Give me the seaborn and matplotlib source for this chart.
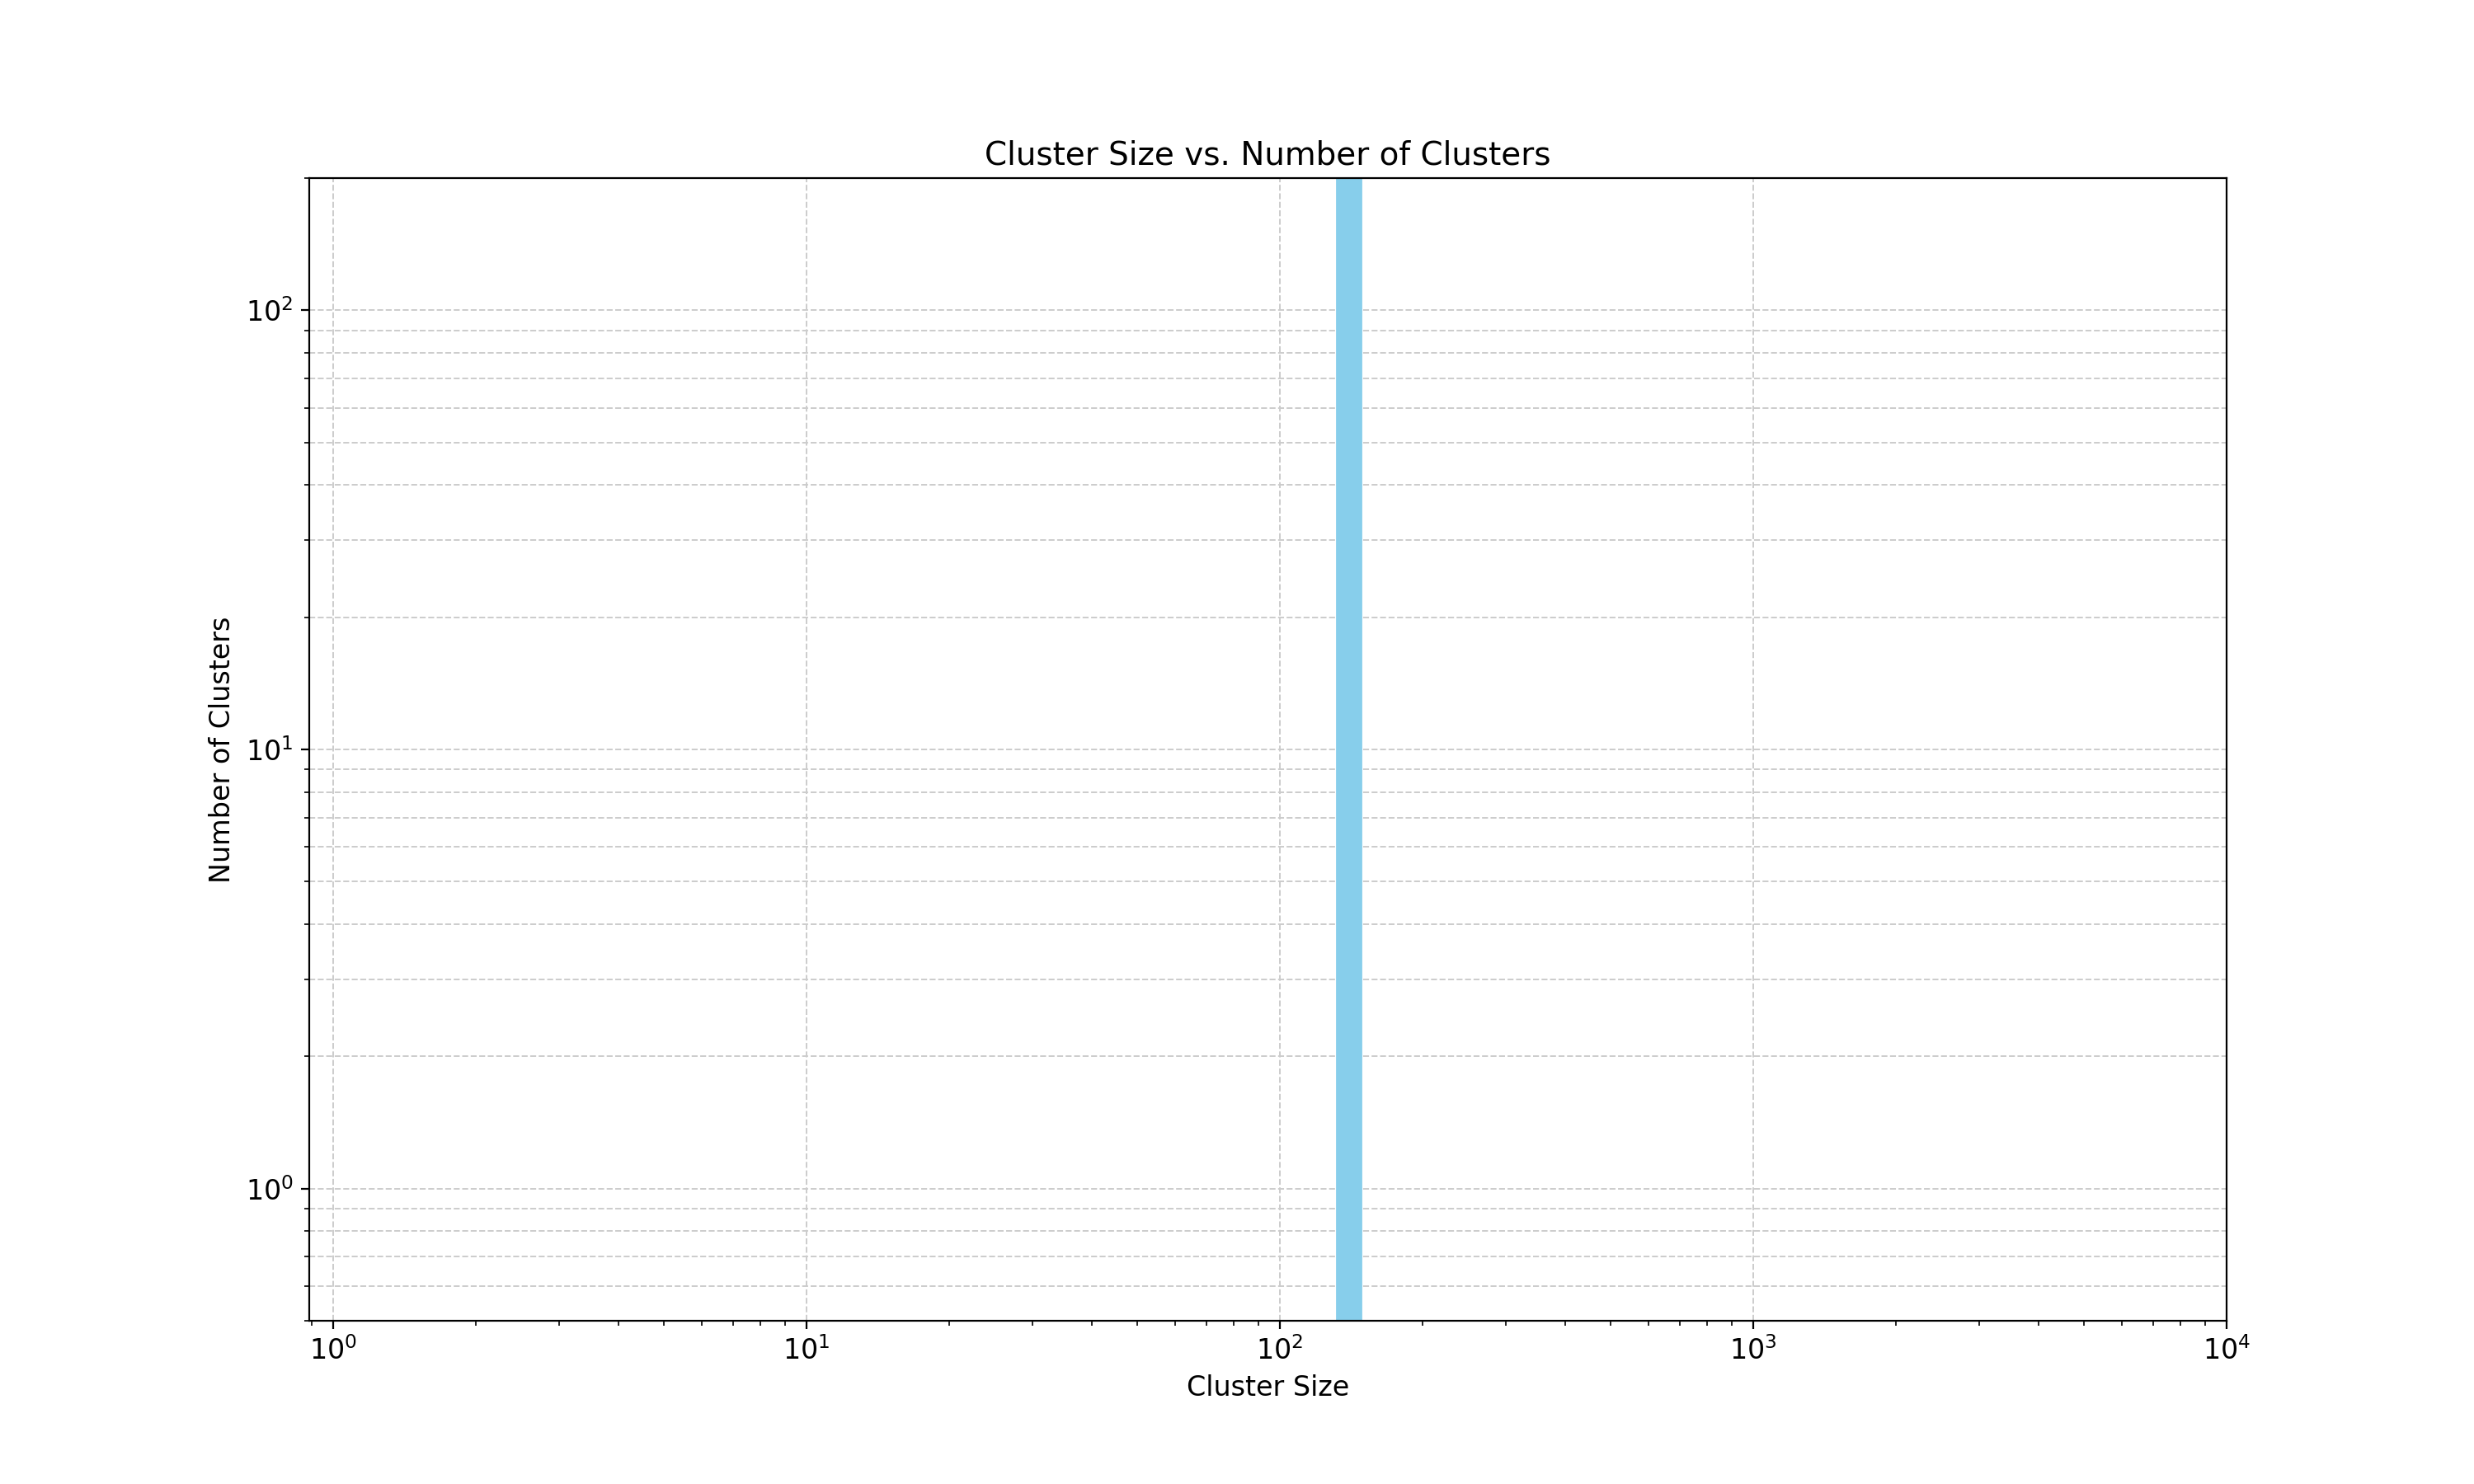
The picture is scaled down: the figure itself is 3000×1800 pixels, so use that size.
import matplotlib
matplotlib.use("Agg")
import matplotlib.pyplot as plt
import seaborn as sns
import pandas as pd

# Data
cluster_sizes = [140]
cluster_counts = [1000]
bin_edges = [132, 148]

df = pd.DataFrame({"size": cluster_sizes, "count": cluster_counts})

sns.set_style("ticks", {"axes.edgecolor": "black", "text.color": "black",
                        "xtick.color": "black", "ytick.color": "black",
                        "axes.labelcolor": "black"})
plt.rcParams['font.family'] = ['DejaVu Sans']

fig, ax = plt.subplots(figsize=(15, 9), dpi=200)
sns.histplot(data=df, x="size", weights="count", bins=bin_edges,
             color="skyblue", edgecolor="skyblue", alpha=1, ax=ax)

ax.set_xscale("log")
ax.set_yscale("log")
ax.set_xlim(0.89, 1e4)
ax.set_ylim(0.5, 200)

ax.grid(True, axis="x", which="major", linestyle="--", linewidth=0.7, color="#cccccc")
ax.grid(True, axis="y", which="both", linestyle="--", linewidth=0.7, color="#cccccc")
ax.set_axisbelow(True)

ax.set_title("Cluster Size vs. Number of Clusters", fontsize=14)
ax.set_xlabel("Cluster Size", fontsize=12)
ax.set_ylabel("Number of Clusters", fontsize=12)
ax.tick_params(labelsize=12)

plt.subplots_adjust(left=0.125, right=0.9, top=0.88, bottom=0.11)
plt.savefig("out.png", dpi=200)
